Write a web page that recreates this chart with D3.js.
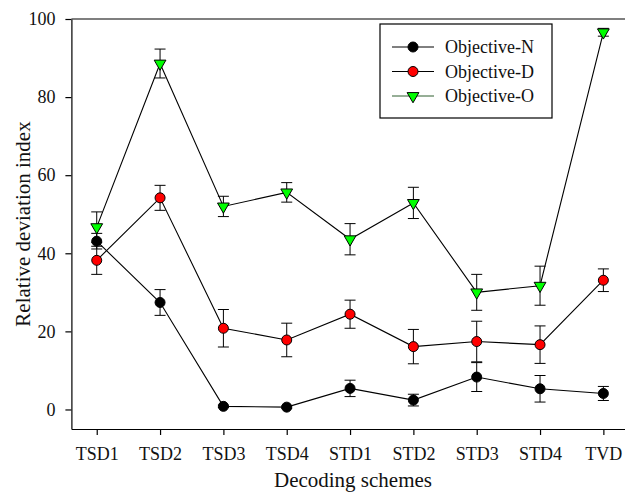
<!DOCTYPE html>
<html>
<head>
<meta charset="utf-8">
<script src="https://cdn.jsdelivr.net/npm/d3@7"></script>
<style>
  body { margin: 0; background: #fff; }
  text { font-family: "Liberation Serif", "Times New Roman", serif; fill: #111; }
</style>
</head>
<body>
<div id="chart"></div>
<script>
// categories on the x axis
var schemes = ["TSD1", "TSD2", "TSD3", "TSD4", "STD1", "STD2", "STD3", "STD4", "TVD"];

// means and error bars
var objN    = [43.1, 27.4, 0.8, 0.6, 5.4, 2.4, 8.3, 5.3, 4.1];
var objNErr = [2.0, 3.3, 0.3, 0.3, 2.1, 1.5, 3.7, 3.4, 1.8];
var objD    = [38.2, 54.2, 20.8, 17.8, 24.4, 16.1, 17.4, 16.6, 33.1];
var objDErr = [3.6, 3.2, 4.8, 4.3, 3.6, 4.4, 5.2, 4.8, 2.9];
var objO    = [46.7, 88.6, 52.0, 55.6, 43.6, 52.9, 30.0, 31.7, 96.6];
var objOErr = [3.9, 3.7, 2.6, 2.5, 4.0, 4.0, 4.6, 5.0, 1.0];

var yTicks = [0, 20, 40, 60, 80, 100];

var series = [
  {name: "Objective-N", values: objN, err: objNErr, fill: "#000000", shape: "circle"},
  {name: "Objective-D", values: objD, err: objDErr, fill: "#ff0000", shape: "circle"},
  {name: "Objective-O", values: objO, err: objOErr, fill: "#00ff00", shape: "triangle"}
];

var W = 625, H = 492;
var margin = {top: 19, left: 71.4},
  width = 557.3,
  height = 410;

var svg = d3.select("#chart")
  .append("svg")
  .attr("width", W)
  .attr("height", H);

var g = svg.append("g")
  .attr("transform", "translate(" + margin.left + "," + margin.top + ")");

var x = d3.scaleLinear()
  .domain([0.6, 9.4])
  .range([0, width]);

var y = d3.scaleLinear()
  .domain([-5, 100])
  .range([height, 0]);

// top border
g.append("line")
  .attr("x1", 0).attr("x2", width)
  .attr("y1", 0).attr("y2", 0)
  .attr("stroke", "#000").attr("stroke-width", 1.2);

// Y axis
var yAxis = g.append("g")
  .call(d3.axisLeft(y).tickValues(yTicks).tickSize(6).tickSizeOuter(0).tickPadding(10));
yAxis.selectAll("text").style("font-size", "18px").attr("font-family", null);

// X axis
var xAxis = g.append("g")
  .attr("transform", "translate(0," + height + ")")
  .call(d3.axisBottom(x)
    .tickValues(d3.range(1, schemes.length + 1))
    .tickFormat(function(d) { return schemes[d - 1]; })
    .tickSize(6).tickSizeOuter(0).tickPadding(12));
xAxis.selectAll("text").style("font-size", "18px").attr("font-family", null);

g.selectAll(".domain, .tick line").attr("stroke", "#000").attr("stroke-width", 1.2);

// axis titles
svg.append("text")
  .attr("transform", "translate(30,224) rotate(-90)")
  .attr("text-anchor", "middle")
  .style("font-size", "21px")
  .text("Relative deviation index");

svg.append("text")
  .attr("x", 353)
  .attr("y", 487)
  .attr("text-anchor", "middle")
  .style("font-size", "21px")
  .text("Decoding schemes");

var line = d3.line()
  .x(function(d, i) { return x(i + 1); })
  .y(function(d) { return y(d); });

var tri = d3.symbol().type(d3.symbolTriangle).size(60);

function drawMarker(sel, s) {
  if (s.shape === "circle") {
    sel.append("circle").attr("r", 5)
      .attr("fill", s.fill).attr("stroke", "#000").attr("stroke-width", 1);
  } else {
    sel.append("path").attr("d", tri).attr("transform", "rotate(180)")
      .attr("fill", s.fill).attr("stroke", "#000").attr("stroke-width", 1);
  }
}

// lines and error bars
series.forEach(function(s) {
  g.append("path")
    .datum(s.values)
    .attr("fill", "none")
    .attr("stroke", "#000")
    .attr("stroke-width", 1.1)
    .attr("d", line);

  var eb = g.append("g").selectAll("g")
    .data(s.values)
    .join("g")
    .attr("transform", function(d, i) { return "translate(" + x(i + 1) + ",0)"; });
  eb.append("line")
    .attr("y1", function(d, i) { return y(d - s.err[i]); })
    .attr("y2", function(d, i) { return y(d + s.err[i]); })
    .attr("stroke", "#000");
  eb.append("line")
    .attr("x1", -5.5).attr("x2", 5.5)
    .attr("y1", function(d, i) { return y(d + s.err[i]); })
    .attr("y2", function(d, i) { return y(d + s.err[i]); })
    .attr("stroke", "#000");
  eb.append("line")
    .attr("x1", -5.5).attr("x2", 5.5)
    .attr("y1", function(d, i) { return y(d - s.err[i]); })
    .attr("y2", function(d, i) { return y(d - s.err[i]); })
    .attr("stroke", "#000");
});

// markers
series.forEach(function(s) {
  g.append("g").selectAll("g")
    .data(s.values)
    .join("g")
    .attr("transform", function(d, i) { return "translate(" + x(i + 1) + "," + y(d) + ")"; })
    .each(function() { drawMarker(d3.select(this), s); });
});

// legend
var legend = svg.append("g");
legend.append("rect")
  .attr("x", 380).attr("y", 24)
  .attr("width", 172).attr("height", 94)
  .attr("fill", "#fff").attr("stroke", "#000").attr("stroke-width", 1.2);

var rows = legend.selectAll(".row")
  .data(series)
  .join("g")
  .attr("class", "row")
  .attr("transform", function(d, i) { return "translate(0," + (47 + i * 24.5) + ")"; });

rows.append("line")
  .attr("x1", 392).attr("x2", 434)
  .attr("stroke", function(d) { return d.shape === "triangle" ? "#2e5e2e" : "#000"; });
rows.append("g")
  .attr("transform", "translate(413,0)")
  .each(function(d) { drawMarker(d3.select(this), d); });
rows.append("text")
  .attr("x", 445)
  .attr("dy", "0.35em")
  .style("font-size", "18px")
  .text(function(d) { return d.name; });
</script>
</body>
</html>
